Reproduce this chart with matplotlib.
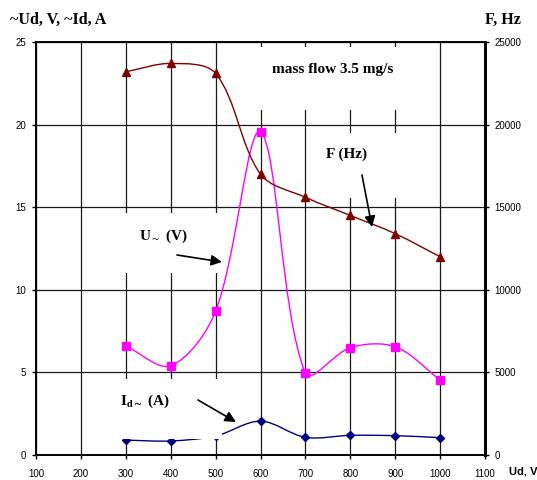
import numpy as np
import matplotlib
matplotlib.use("Agg")
import matplotlib.pyplot as plt
from matplotlib.path import Path
from matplotlib.patches import PathPatch, Rectangle, FancyArrowPatch

plt.rcParams['mathtext.fontset'] = 'stix'

# data
ud = [300, 400, 500, 600, 700, 800, 900, 1000]
freq_hz = [23200, 23700, 23100, 17000, 15600, 14500, 13400, 12000]
u_ac = [6.6, 5.4, 8.7, 19.55, 4.95, 6.5, 6.55, 4.55]
i_ac = [0.9, 0.85, 1.15, 2.05, 1.07, 1.19, 1.17, 1.05]

x_ticks = list(range(100, 1200, 100))
left_ticks = [0, 5, 10, 15, 20, 25]
right_ticks = [0, 5000, 10000, 15000, 20000, 25000]

W, H = 537, 480


def smooth_path(xs, ys, sx, sy):
    # Excel-like smoothed line: Bezier with tangents weighted by
    # on-screen segment length (sx, sy = pixels per data unit)
    pts = np.column_stack([np.asarray(xs, float) * sx, np.asarray(ys, float) * sy])
    n = len(pts)
    verts = [pts[0]]
    codes = [Path.MOVETO]
    for i in range(n - 1):
        p0 = pts[max(i - 1, 0)]
        p1 = pts[i]
        p2 = pts[i + 1]
        p3 = pts[min(i + 2, n - 1)]
        d01 = np.hypot(*(p1 - p0))
        d12 = np.hypot(*(p2 - p1))
        d23 = np.hypot(*(p3 - p2))
        c1 = p1 + (p2 - p0) * d12 / (d01 + d12) / 3
        c2 = p2 - (p3 - p1) * d12 / (d12 + d23) / 3
        verts += [c1, c2, p2]
        codes += [Path.CURVE4] * 3
    verts = np.array(verts) / [sx, sy]
    return Path(verts, codes)


def fx(px):
    return px / W


def fy(py):
    return 1 - py / H


fig = plt.figure(figsize=(W / 100, H / 100), dpi=100)
ax = fig.add_axes([fx(36), fy(455), (485 - 36) / W, (455 - 42) / H])
ax2 = ax.twinx()

ax.set_xlim(100, 1100)
ax.set_ylim(0, 25)
ax2.set_ylim(0, 25000)

ax.set_xticks(x_ticks)
ax.set_yticks(left_ticks)
ax2.set_yticks(right_ticks)
ax.grid(True, color='#1a1a1a', lw=0.9)
ax.set_axisbelow(True)

for lab in ax.get_xticklabels() + ax.get_yticklabels() + ax2.get_yticklabels():
    lab.set_fontfamily('Liberation Sans')
    lab.set_fontsize(7)
ax.tick_params(axis='x', direction='out', length=3, width=1, pad=7)
ax.tick_params(axis='y', direction='out', length=3, width=1, pad=4)
ax2.tick_params(axis='y', direction='out', length=3, width=1, pad=4)

for a in (ax, ax2):
    for s in ['left', 'bottom', 'top']:
        a.spines[s].set_linewidth(1.2)
    a.spines['right'].set_linewidth(2)

# pixels per data unit
sx = 449 / 1000
sy_left = 413 / 25
sy_right = 413 / 25000

# series
ax.add_patch(PathPatch(smooth_path(ud, u_ac, sx, sy_left), fill=False, ec='#ff00ff', lw=1, zorder=3))
ax.plot(ud, u_ac, ls='none', marker='s', ms=5.5, color='#ff00ff', zorder=4)

ax.add_patch(PathPatch(smooth_path(ud, i_ac, sx, sy_left), fill=False, ec='#000080', lw=1, zorder=3))
ax.plot(ud, i_ac, ls='none', marker='D', ms=4, color='#000080', zorder=4)

ax2.add_patch(PathPatch(smooth_path(ud, freq_hz, sx, sy_right), fill=False, ec='#800000', lw=1, zorder=5))
ax2.plot(ud, freq_hz, ls='none', marker='^', ms=5.5, color='#800000', zorder=6)

# white label boxes that hide the grid behind them
for (x0, y0, x1, y1) in [(100, 379, 222, 439), (100, 213, 222, 273),
                         (250, 47, 430, 110), (315, 133, 425, 198)]:
    ax2.add_patch(Rectangle(((x0 - 36) / 449, (455 - y1) / 413),
                            (x1 - x0) / 449, (y1 - y0) / 413,
                            transform=ax2.transAxes, fc='white', ec='none', zorder=2))

serif_b = dict(family='Liberation Serif', weight='bold')
fig.text(fx(10), fy(20), '~Ud, V, ~Id, A', fontsize=11.5, ha='left', va='center', **serif_b)
fig.text(fx(485), fy(20), 'F, Hz', fontsize=11.5, ha='left', va='center', **serif_b)
fig.text(fx(509), fy(472), 'Ud, V', fontsize=8, ha='left', va='center',
         family='Liberation Sans', weight='bold')
fig.text(fx(333), fy(69), 'mass flow 3.5 mg/s', fontsize=11, ha='center', va='center', **serif_b)
fig.text(fx(346), fy(154), 'F (Hz)', fontsize=11, ha='center', va='center', **serif_b)
fig.text(fx(163), fy(236), r'U$_{\sim}$ (V)', fontsize=11, ha='center', va='center', **serif_b)
fig.text(fx(145), fy(401), r'I$_{\mathbf{d\sim}}$ (A)', fontsize=11, ha='center', va='center', **serif_b)

# arrows
for (x0, y0, x1, y1) in [(362, 175, 372, 227), (177, 255, 222, 262), (198, 400, 236, 422)]:
    fig.add_artist(FancyArrowPatch(
        (fx(x0), fy(y0)), (fx(x1), fy(y1)), transform=fig.transFigure,
        arrowstyle='-|>', mutation_scale=16, lw=1.2, color='black', shrinkA=0, shrinkB=0))

fig.savefig('out.png', dpi=100)
